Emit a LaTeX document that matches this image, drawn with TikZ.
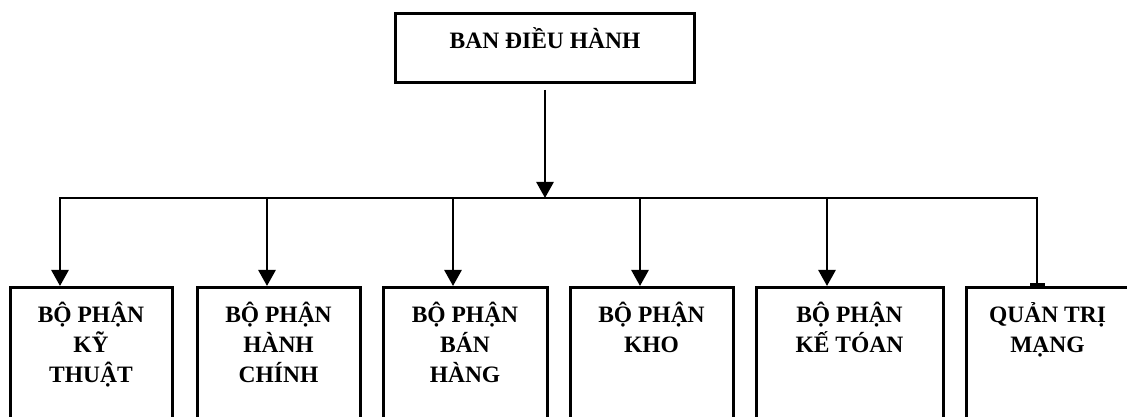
\documentclass[tikz,border=0pt]{standalone}
\usepackage{fontspec}
\setmainfont{Liberation Serif}
\usetikzlibrary{arrows.meta}
\tikzset{
  box/.style={draw, line width=3pt, rectangle, inner sep=0pt, anchor=north},
  boxtext/.style={font=\bfseries\fontsize{23.5}{30}\selectfont, align=center, inner sep=0pt, anchor=north},
  link/.style={line width=2.7pt},
  arrowlink/.style={link, -{Triangle[width=17pt,length=16pt]}},
  stublink/.style={link, -{Rectangle[width=15pt,length=3pt]}}
}
\begin{document}
\begin{tikzpicture}[x=1pt,y=1pt]
\clip (0,0) rectangle (1127,417);
\fill[white] (0,0) rectangle (1127,417);

% head office
\node[box, minimum width=299pt, minimum height=69pt] (top) at (545,405) {};
\node[boxtext] (toptext) at ([yshift=-15pt]top.north) {BAN ĐIỀU HÀNH};

% departments
\node[box, minimum width=162pt, minimum height=150pt] (d1) at (91,131) {};
\node[box, minimum width=163pt, minimum height=150pt] (d2) at (278.5,131) {};
\node[box, minimum width=164pt, minimum height=150pt] (d3) at (465,131) {};
\node[box, minimum width=163pt, minimum height=150pt] (d4) at (651.5,131) {};
\node[box, minimum width=187pt, minimum height=150pt] (d5) at (849.5,131) {};
\node[box, minimum width=163pt, minimum height=150pt] (d6) at (1047.5,131) {};

\node[boxtext] (t1) at ([yshift=-16pt]d1.north) {BỘ PHẬN\\KỸ\\THUẬT};
\node[boxtext] (t2) at ([yshift=-16pt]d2.north) {BỘ PHẬN\\HÀNH\\CHÍNH};
\node[boxtext] (t3) at ([yshift=-16pt]d3.north) {BỘ PHẬN\\BÁN\\HÀNG};
\node[boxtext] (t4) at ([yshift=-16pt]d4.north) {BỘ PHẬN\\KHO};
\node[boxtext] (t5) at ([yshift=-16pt]d5.north) {BỘ PHẬN\\KẾ TÓAN};
\node[boxtext] (t6) at ([yshift=-16pt]d6.north) {QUẢN TRỊ\\MẠNG};

% distribution bus
\coordinate (b1) at (60,219);
\coordinate (b2) at (267,219);
\coordinate (b3) at (453,219);
\coordinate (b4) at (640,219);
\coordinate (b5) at (827,219);
\coordinate (b6) at (1037,219);
\coordinate (stem) at ([yshift=-6pt]top.south);
\coordinate (hub) at (stem |- b1);

\draw[arrowlink] (stem) -- (hub);
\draw[link, line cap=rect] (b1) -- (b6);
\draw[arrowlink] (b1) -- (b1 |- d1.north);
\draw[arrowlink] (b2) -- (b2 |- d2.north);
\draw[arrowlink] (b3) -- (b3 |- d3.north);
\draw[arrowlink] (b4) -- (b4 |- d4.north);
\draw[arrowlink] (b5) -- (b5 |- d5.north);
\draw[stublink] (b6) -- (b6 |- d6.north);
\end{tikzpicture}
\end{document}
